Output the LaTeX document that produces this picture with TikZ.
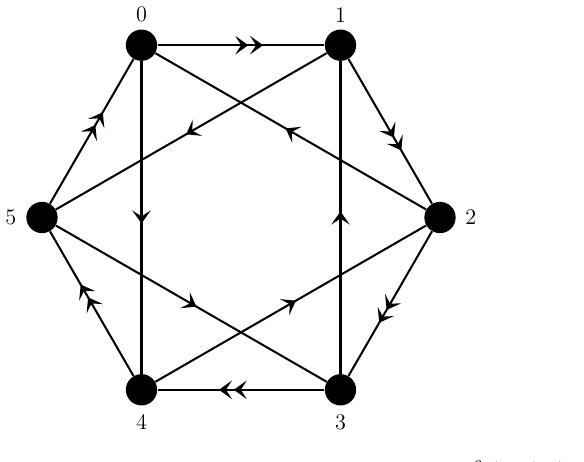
\documentclass[tikz,border=0pt]{standalone}
\usetikzlibrary{arrows.meta,decorations.markings}
\tikzset{
  vtx/.style={circle,fill=black,minimum size=16.9pt,inner sep=0pt},
  lbl/.style={inner sep=0pt,font=\fontsize{12}{14}\selectfont},
  edgeline/.style={line width=1.1pt},
  sgl/.style={edgeline,postaction={decorate},
    decoration={markings,mark=at position 0.5 with {\arrow[xshift=3.2pt]{Stealth[length=7pt,width=10pt,inset=3.2pt]}}}},
  dbl/.style={edgeline,postaction={decorate},
    decoration={markings,mark=at position 0.5 with {\arrow[xshift=11.9pt]{Stealth[length=7pt,width=10pt,inset=3.2pt,sep=1pt]Stealth[length=7pt,width=10pt,inset=3.2pt]}}}}
}
\begin{document}
\begin{tikzpicture}[x=0.54pt,y=-0.54pt]
\useasboundingbox (0,0) rectangle (584,462);
\clip (0,0) rectangle (584,462);
\node[vtx,label={[lbl,label distance=3.6pt]above:0}] (v0) at (141.5,45.2) {};
\node[vtx,label={[lbl,label distance=3.6pt]above:1}] (v1) at (340.5,45.2) {};
\node[vtx,label={[lbl,label distance=4.8pt]right:2}] (v2) at (440,217.5) {};
\node[vtx,label={[lbl,label distance=4.4pt]below:3}] (v3) at (340.5,389.8) {};
\node[vtx,label={[lbl,label distance=4.4pt]below:4}] (v4) at (141.5,389.8) {};
\node[vtx,label={[lbl,label distance=5pt]left:5}] (v5) at (42,217.5) {};
% outer cycle
\draw[dbl] (v0) -- (v1);
\draw[dbl] (v1) -- (v2);
\draw[dbl] (v2) -- (v3);
\draw[dbl] (v3) -- (v4);
\draw[dbl] (v4) -- (v5);
\draw[dbl] (v5) -- (v0);
% inner edges
\draw[sgl] (v0) -- (v4);
\draw[sgl] (v3) -- (v1);
\draw[sgl] (v2) -- (v0);
\draw[sgl] (v1) -- (v5);
\draw[sgl] (v5) -- (v3);
\draw[sgl] (v4) -- (v2);
% caption, cut by the lower edge: only its tops show
\node[lbl,anchor=north west] (cap) at (462,461) {$x^3\;(a,\,b)\;\;(c,\,d,\,e)$};
\end{tikzpicture}
\end{document}
